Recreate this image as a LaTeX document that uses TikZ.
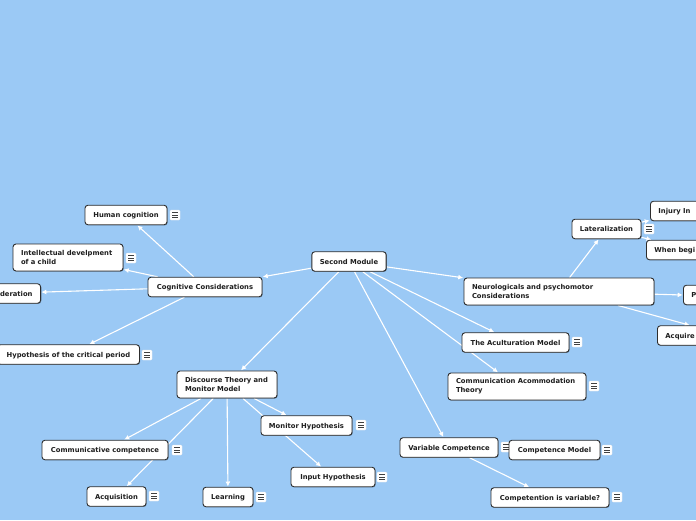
\documentclass[tikz,border=0pt]{standalone}
\usepackage{fontspec}
\setmainfont{DejaVu Sans}
\usetikzlibrary{arrows.meta,shadows}
\definecolor{bgblue}{RGB}{155,201,245}
\definecolor{txt}{RGB}{30,30,30}
\definecolor{bord}{RGB}{45,45,45}
\pgfdeclarelayer{back}
\pgfdeclarelayer{edges}
\pgfsetlayers{back,edges,main}
\tikzset{
  basebox/.style={draw=bord, line width=0.9pt, fill=white, rounded corners=3pt,
    minimum height=19.5pt, inner xsep=8pt, inner ysep=2pt,
    font=\fontsize{6.8}{9}\selectfont\bfseries, text=txt,
    drop shadow={shadow xshift=0.7pt, shadow yshift=-0.7pt, opacity=0.35, fill=black}},
  box/.style={basebox, text height=6.3pt, text depth=1.2pt},
  twoline/.style={basebox, align=left, minimum height=27pt},
  cut/.style={box, anchor=west, align=left, text width=80pt},
  edge/.style={draw=white, line width=1.1pt, -{Latex[length=5pt,width=5pt]}, shorten >=0.3pt},
  menu/.style={fill=white, draw=white!85!gray, line width=0.3pt, rounded corners=1pt,
    minimum size=10pt, inner sep=0pt,
    path picture={
      \draw[line width=0.8pt, draw=black!75]
        ([xshift=-3pt,yshift=2.6pt]path picture bounding box.center) -- ++(6pt,0pt)
        ([xshift=-3pt,yshift=0pt]path picture bounding box.center) -- ++(6pt,0pt)
        ([xshift=-3pt,yshift=-2.6pt]path picture bounding box.center) -- ++(6pt,0pt);
    }},
}
\begin{document}
\begin{tikzpicture}[x=1pt,y=-1pt]
\useasboundingbox (0,0) rectangle (696,520);
\clip (0,0) rectangle (696,520);
\begin{pgfonlayer}{back}
  \fill[bgblue] (0,0) rectangle (696,520);
\end{pgfonlayer}

% central
\node[box, minimum width=74pt] (sm) at (349,261.5) {Second Module};

% cognitive branch
\node[box, minimum width=114pt] (cog) at (205,287) {Cognitive Considerations};
\node[box, minimum width=82pt] (hum) at (126,215) {Human cognition};
\node[menu] (m1) at (175,215) {};
\node[twoline, text width=94pt] (intel) at (68,257.5) {Intellectual develpment\\of a child};
\node[menu] (m2) at (131,258) {};
\node[box, anchor=east, align=right, text width=70pt] (der) at (41,293.5) {deration};
\node[box, minimum width=142pt] (hyp) at (68.5,354.5) {Hypothesis of the critical period};
\node[menu] (m3) at (147,355) {};

% discourse branch
\node[twoline, text width=84pt] (disc) at (227,384.5) {Discourse Theory and\\Monitor Model};
\node[box, minimum width=126pt] (comc) at (105,450) {Communicative competence};
\node[menu] (m4) at (177,450) {};
\node[box, minimum width=59pt] (acq) at (116.5,496.5) {Acquisition};
\node[menu] (m5) at (154,496) {};
\node[box, minimum width=50pt] (lea) at (228,497) {Learning};
\node[menu] (m6) at (261,497) {};
\node[box, minimum width=91pt] (mon) at (306.5,425.5) {Monitor Hypothesis};
\node[menu] (m7) at (361,425) {};
\node[box, minimum width=84pt] (inp) at (333,477) {Input Hypothesis};
\node[menu] (m8) at (382,477) {};

% neurological branch
\node[twoline, text width=174pt] (neu) at (559,291.5) {Neurologicals and psychomotor\\Considerations};
\node[box, minimum width=69pt] (lat) at (606.5,229) {Lateralization};
\node[menu] (m9) at (649,229) {};
\node[cut] (inj) at (650,211) {Injury In};
\node[cut] (when) at (646,250) {When begi};
\node[cut] (pp) at (683,295) {P};
\node[cut] (acqr) at (657,335.5) {Acquire};

% other branches
\node[box, minimum width=107pt] (acu) at (515.5,342.5) {The Aculturation Model};
\node[menu] (m10) at (577,342) {};
\node[twoline, text width=122pt] (cat) at (517,386.5) {Communication Acommodation\\Theory};
\node[menu] (m11) at (594,386) {};
\node[box, minimum width=98pt] (var) at (449,447.5) {Variable Competence};
\node[menu] (m12) at (506,447) {};
\node[box, minimum width=91pt] (cm) at (554.5,450) {Competence Model};
\node[menu] (m13) at (607,450) {};
\node[box, minimum width=118pt] (civ) at (550,497.5) {Competention is variable?};
\node[menu] (m14) at (617,497) {};

\begin{pgfonlayer}{edges}
  \draw[edge] (sm) -- (cog);
  \draw[edge] (sm) -- (neu);
  \draw[edge] (sm) -- (disc);
  \draw[edge] (sm) -- (acu);
  \draw[edge] (sm) -- (cat);
  \draw[edge] (sm) -- (var);
  \draw[edge] (cog) -- (hum);
  \draw[edge] (cog) -- (intel);
  \draw[edge] (cog) -- (der);
  \draw[edge] (cog) -- (hyp);
  \draw[edge] (disc) -- (comc);
  \draw[edge] (disc) -- (acq);
  \draw[edge] (disc) -- (lea);
  \draw[edge] (disc) -- (mon);
  \draw[edge] (disc) -- (inp);
  \draw[edge] (neu) -- (lat);
  \draw[edge] (lat) -- (inj);
  \draw[edge] (lat) -- (when);
  \draw[edge] (neu) -- (pp.west);
  \draw[edge] ([xshift=59pt]neu.south) -- ([xshift=33pt]acqr.north west);
  \draw[edge] (var) -- (civ);
\end{pgfonlayer}
\end{tikzpicture}
\end{document}
